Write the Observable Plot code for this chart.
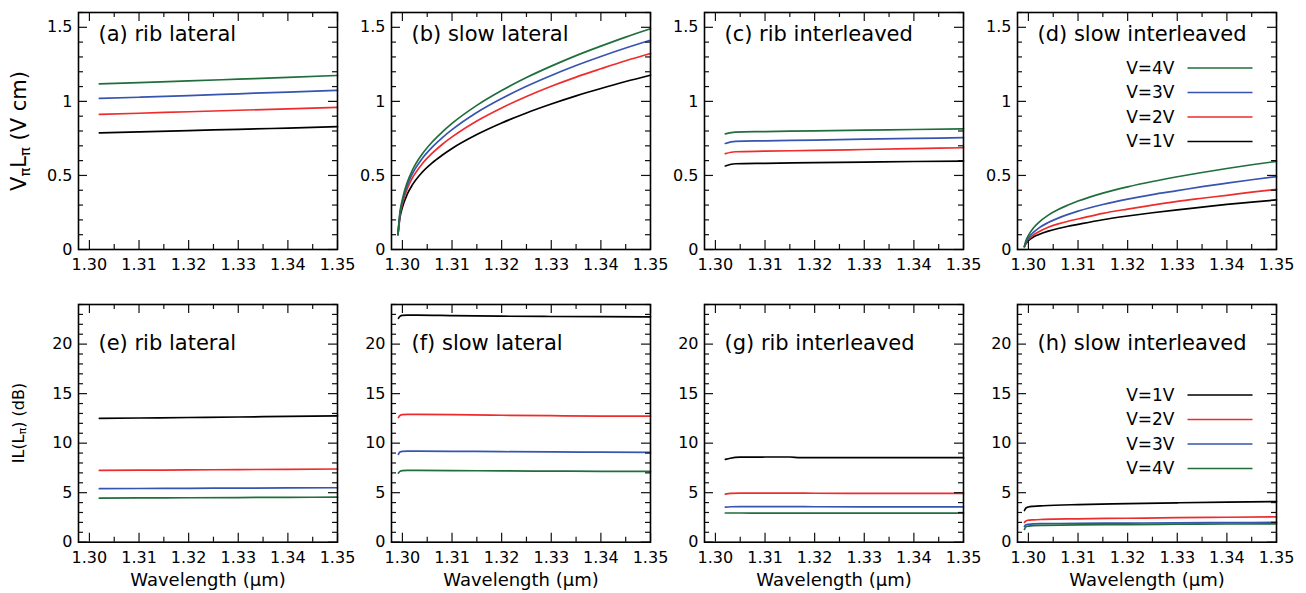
<!DOCTYPE html>
<html><head><meta charset="utf-8">
<script src="https://cdn.jsdelivr.net/npm/d3@7"></script>
<script src="https://cdn.jsdelivr.net/npm/@observablehq/plot@0.6"></script>
<style>
body{margin:0;background:#fff;font-family:"DejaVu Sans",sans-serif;}
#root{position:relative;width:1306px;height:593px;overflow:hidden;background:#fff;}
.panel{position:absolute;}
.ylab{position:absolute;transform:translate(-50%,-50%) rotate(-90deg);white-space:nowrap;color:#000;}
.ylab sub{font-size:70%;vertical-align:-0.25em;}
</style></head><body><div id="root"></div>
<script>
// ---- series / categories ----
const voltages = ["V=1V", "V=2V", "V=3V", "V=4V"];
const colors = ["#000000", "#ee2c2c", "#3654b0", "#1f6e3c"];
const titles = ["(a) rib lateral", "(b) slow lateral", "(c) rib interleaved", "(d) slow interleaved",
                "(e) rib lateral", "(f) slow lateral", "(g) rib interleaved", "(h) slow interleaved"];
const xTicks = [1.30, 1.31, 1.32, 1.33, 1.34, 1.35];
const xMinor = [1.305, 1.315, 1.325, 1.335, 1.345];
const yTopTicks = [0, 0.5, 1, 1.5];
const yTopMinor = [0.1,0.2,0.3,0.4,0.6,0.7,0.8,0.9,1.1,1.2,1.3,1.4,1.6];
const yBotTicks = [0, 5, 10, 15, 20];
const yBotMinor = [1,2,3,4,6,7,8,9,11,12,13,14,16,17,18,19,21,22,23,24];

// (a) rib lateral, VπLπ
const a_x  = [1.302, 1.31, 1.32, 1.33, 1.34, 1.35];
const a_v1 = [0.787, 0.794, 0.803, 0.811, 0.820, 0.829];
const a_v2 = [0.912, 0.920, 0.930, 0.940, 0.950, 0.960];
const a_v3 = [1.020, 1.028, 1.039, 1.051, 1.063, 1.074];
const a_v4 = [1.118, 1.127, 1.138, 1.150, 1.162, 1.175];
// (b) slow lateral
const b_x  = [1.2991, 1.2995, 1.300, 1.301, 1.302, 1.304, 1.306, 1.308, 1.31, 1.315, 1.32, 1.325, 1.33, 1.335, 1.34, 1.345, 1.35];
const b_v1 = [0.100, 0.215, 0.285, 0.375, 0.436, 0.522, 0.585, 0.636, 0.682, 0.776, 0.854, 0.922, 0.982, 1.037, 1.087, 1.134, 1.177];
const b_v2 = [0.100, 0.230, 0.310, 0.412, 0.482, 0.579, 0.650, 0.709, 0.760, 0.868, 0.956, 1.033, 1.102, 1.164, 1.220, 1.274, 1.323];
const b_v3 = [0.100, 0.240, 0.325, 0.435, 0.511, 0.615, 0.691, 0.754, 0.809, 0.925, 1.019, 1.102, 1.175, 1.242, 1.303, 1.360, 1.413];
const b_v4 = [0.100, 0.250, 0.340, 0.455, 0.535, 0.645, 0.726, 0.792, 0.851, 0.973, 1.073, 1.161, 1.238, 1.309, 1.373, 1.434, 1.490];
// (c) rib interleaved
const c_x  = [1.302, 1.304, 1.31, 1.32, 1.33, 1.34, 1.35];
const c_v1 = [0.564, 0.579, 0.582, 0.586, 0.590, 0.594, 0.597];
const c_v2 = [0.647, 0.660, 0.664, 0.669, 0.675, 0.681, 0.687];
const c_v3 = [0.716, 0.730, 0.734, 0.739, 0.745, 0.750, 0.755];
const c_v4 = [0.781, 0.793, 0.796, 0.801, 0.806, 0.810, 0.815];
// (d) slow interleaved
const d_x  = [1.2992, 1.2995, 1.300, 1.301, 1.302, 1.304, 1.306, 1.308, 1.31, 1.315, 1.32, 1.325, 1.33, 1.335, 1.34, 1.345, 1.35];
const d_v1 = [0.020, 0.040, 0.060, 0.084, 0.100, 0.124, 0.142, 0.157, 0.170, 0.201, 0.226, 0.248, 0.268, 0.286, 0.304, 0.320, 0.335];
const d_v2 = [0.020, 0.045, 0.068, 0.097, 0.118, 0.150, 0.173, 0.191, 0.206, 0.244, 0.273, 0.300, 0.325, 0.346, 0.366, 0.387, 0.406];
const d_v3 = [0.020, 0.050, 0.078, 0.115, 0.143, 0.182, 0.212, 0.237, 0.259, 0.304, 0.340, 0.371, 0.397, 0.424, 0.448, 0.471, 0.492];
const d_v4 = [0.020, 0.060, 0.095, 0.145, 0.180, 0.232, 0.270, 0.300, 0.327, 0.381, 0.423, 0.459, 0.491, 0.520, 0.547, 0.572, 0.595];
// (e) rib lateral, IL (dB)
const e_x  = [1.302, 1.31, 1.32, 1.33, 1.34, 1.35];
const e_v1 = [12.51, 12.54, 12.59, 12.64, 12.70, 12.75];
const e_v2 = [7.25, 7.27, 7.30, 7.33, 7.36, 7.39];
const e_v3 = [5.40, 5.42, 5.44, 5.46, 5.48, 5.50];
const e_v4 = [4.45, 4.47, 4.49, 4.51, 4.53, 4.55];
// (f) slow lateral
const f_x  = [1.2992, 1.2995, 1.300, 1.301, 1.303, 1.31, 1.32, 1.33, 1.34, 1.35];
const f_v1 = [22.60, 22.80, 22.90, 22.92, 22.92, 22.88, 22.82, 22.79, 22.77, 22.76];
const f_v2 = [12.58, 12.80, 12.88, 12.90, 12.90, 12.88, 12.82, 12.77, 12.73, 12.72];
const f_v3 = [8.87, 9.10, 9.18, 9.20, 9.20, 9.18, 9.14, 9.11, 9.09, 9.07];
const f_v4 = [6.98, 7.15, 7.23, 7.25, 7.25, 7.23, 7.20, 7.18, 7.16, 7.15];
// (g) rib interleaved
const g_x  = [1.302, 1.303, 1.305, 1.31, 1.315, 1.317, 1.32, 1.33, 1.34, 1.35];
const g_v1 = [8.36, 8.48, 8.58, 8.60, 8.60, 8.54, 8.53, 8.53, 8.53, 8.53];
const g_v2 = [4.86, 4.92, 4.96, 4.96, 4.95, 4.95, 4.94, 4.93, 4.92, 4.92];
const g_v3 = [3.54, 3.58, 3.60, 3.60, 3.59, 3.59, 3.58, 3.57, 3.57, 3.57];
const g_v4 = [2.95, 2.95, 2.95, 2.94, 2.94, 2.93, 2.93, 2.93, 2.93, 2.93];
// (h) slow interleaved
const h_x  = [1.2992, 1.2995, 1.300, 1.301, 1.303, 1.31, 1.32, 1.33, 1.34, 1.35];
const h_v1 = [3.20, 3.45, 3.55, 3.62, 3.68, 3.80, 3.90, 3.98, 4.05, 4.10];
const h_v2 = [2.00, 2.15, 2.22, 2.26, 2.30, 2.36, 2.42, 2.48, 2.52, 2.56];
const h_v3 = [1.60, 1.75, 1.80, 1.85, 1.87, 1.90, 1.93, 1.96, 1.98, 2.00];
const h_v4 = [1.30, 1.55, 1.62, 1.68, 1.70, 1.74, 1.78, 1.81, 1.84, 1.86];

const panels = [
  [a_x, [a_v1, a_v2, a_v3, a_v4]], [b_x, [b_v1, b_v2, b_v3, b_v4]],
  [c_x, [c_v1, c_v2, c_v3, c_v4]], [d_x, [d_v1, d_v2, d_v3, d_v4]],
  [e_x, [e_v1, e_v2, e_v3, e_v4]], [f_x, [f_v1, f_v2, f_v3, f_v4]],
  [g_x, [g_v1, g_v2, g_v3, g_v4]], [h_x, [h_v1, h_v2, h_v3, h_v4]]
];
const legendOrderTop = ["V=4V", "V=3V", "V=2V", "V=1V"];
const legendOrderBot = ["V=1V", "V=2V", "V=3V", "V=4V"];

// ---- layout ----
const root = document.getElementById("root");
const FW = 259, ML = 50, MR = 8;
const frameLefts = [78, 391.1, 704.2, 1017.3];
const font = "DejaVu Sans";

function makePanel(i) {
  const row = i < 4 ? 0 : 1, col = i % 4;
  const mt = row === 0 ? 12 : 14;
  const height = row === 0 ? 290 : 300;
  const mb = row === 0 ? 41 : 48.3;
  const top = row === 0 ? 0 : 290;
  const FH = height - mt - mb;
  const [xs, ys] = panels[i];
  const rows = [];
  ys.forEach((arr, k) => arr.forEach((v, j) => rows.push({x: xs[j], y: v, s: voltages[k]})));
  const yT = row === 0 ? yTopTicks : yBotTicks;
  const yM = row === 0 ? yTopMinor : yBotMinor;
  const big = 9, small = 5;
  const tickStyle = {stroke: "#111", strokeWidth: 1.2};
  const marks = [
    Plot.line(rows, {x: "x", y: "y", z: "s", stroke: "s", strokeWidth: 1.7, curve: "monotone-x"}),
    Plot.tickX(xTicks, {x: d => d, insetTop: FH - big, ...tickStyle}),
    Plot.tickX(xTicks, {x: d => d, insetBottom: FH - big, ...tickStyle}),
    Plot.tickX(xMinor, {x: d => d, insetTop: FH - small, ...tickStyle}),
    Plot.tickX(xMinor, {x: d => d, insetBottom: FH - small, ...tickStyle}),
    Plot.tickY(yT, {y: d => d, insetRight: FW - big, ...tickStyle}),
    Plot.tickY(yT, {y: d => d, insetLeft: FW - big, ...tickStyle}),
    Plot.tickY(yM, {y: d => d, insetRight: FW - small, ...tickStyle}),
    Plot.tickY(yM, {y: d => d, insetLeft: FW - small, ...tickStyle}),
    Plot.axisX({ticks: xTicks, tickSize: 0, tickPadding: 9, fontSize: 16, tickFormat: d3.format(".2f"), label: null}),
    Plot.axisY({ticks: yT, tickSize: 0, tickPadding: 6, fontSize: 16, tickFormat: d3.format("~g"), label: null}),
    Plot.frame({stroke: "#000", strokeWidth: 1.6}),
    Plot.text([titles[i]], {frameAnchor: "top-left", dx: 20, dy: row === 0 ? 22 : 39, fontSize: 21, textAnchor: "start", lineAnchor: "middle", fill: "#000"})
  ];
  if (row === 1) {
    marks.push(Plot.text(["Wavelength (μm)"], {frameAnchor: "bottom", dy: 38, fontSize: 18, lineAnchor: "middle", fill: "#000"}));
  }
  const svg = Plot.plot({
    width: FW + ML + MR, height,
    marginLeft: ML, marginRight: MR, marginTop: mt, marginBottom: mb,
    x: {domain: [1.2978, 1.35]},
    y: {domain: row === 0 ? [0, 1.6] : [0, 24]},
    color: {domain: voltages, range: colors},
    style: {fontFamily: font, background: "transparent", overflow: "visible", color: "#000"},
    marks
  });
  svg.classList.add("panel");
  svg.style.left = (frameLefts[col] - ML) + "px";
  svg.style.top = top + "px";
  root.appendChild(svg);

  if (col === 3) {
    const order = row === 0 ? legendOrderTop : legendOrderBot;
    const y0 = row === 0 ? 56 : 91;
    const g = d3.select(svg).append("g").attr("font-family", font).attr("font-size", 17);
    order.forEach((lab, k) => {
      const yy = mt + y0 + k * 24.5;
      g.append("text").attr("x", ML + 157.5).attr("y", yy).attr("text-anchor", "end")
        .attr("dy", "0.35em").attr("fill", "#000").text(lab);
      g.append("line").attr("x1", ML + 170.5).attr("x2", ML + 235.5).attr("y1", yy).attr("y2", yy)
        .attr("stroke", colors[voltages.indexOf(lab)]).attr("stroke-width", 1.7);
    });
  }
}
for (let i = 0; i < 8; i++) makePanel(i);

// y-axis titles
const yl1 = document.createElement("div");
yl1.className = "ylab"; yl1.style.left = "20px"; yl1.style.top = "131px"; yl1.style.fontSize = "21px";
yl1.innerHTML = "V<sub>π</sub>L<sub>π</sub> (V cm)";
root.appendChild(yl1);
const yl2 = document.createElement("div");
yl2.className = "ylab"; yl2.style.left = "19px"; yl2.style.top = "423px"; yl2.style.fontSize = "16px";
yl2.innerHTML = "IL(L<sub>π</sub>) (dB)";
root.appendChild(yl2);
</script>
</body></html>
